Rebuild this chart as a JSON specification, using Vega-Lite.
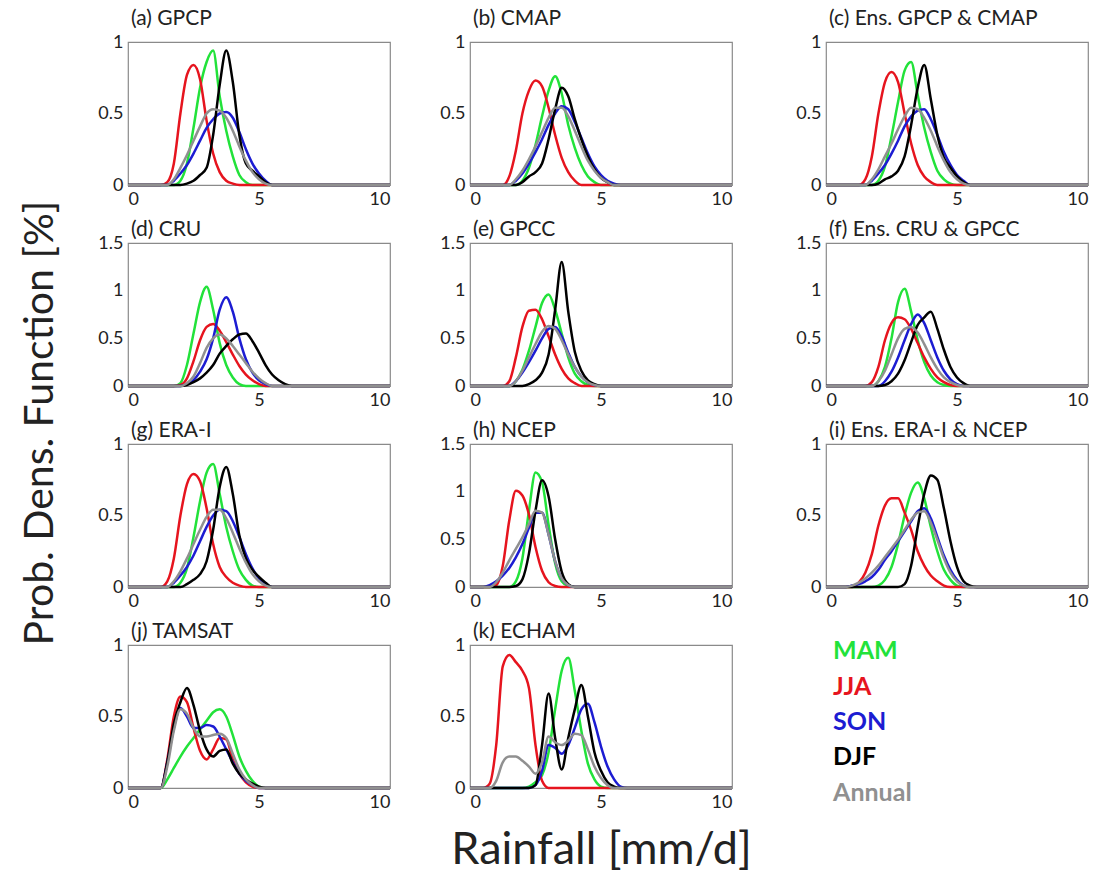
{
"$schema": "https://vega.github.io/schema/vega-lite/v6.json",
"background": "white",
"padding": {"left": 20, "top": 7, "right": 5, "bottom": 2},
"title": {"text": "Prob. Dens. Function [%]", "orient": "left", "anchor": "middle", "frame": "bounds", "fontSize": 41, "fontWeight": "normal", "font": "Lato", "color": "#222", "offset": 35, "dx": 17},
"columns": 3,
"spacing": {"row": 9, "column": 43},
"align": "each",
"datasets": {
"leg": [{"s":"MAM"},{"s":"JJA"},{"s":"SON"},{"s":"DJF"},{"s":"Annual"}],
"pdf": [
{"p":"a","s":"MAM","x":0,"y":0},{"p":"a","s":"MAM","x":1.75,"y":0},{"p":"a","s":"MAM","x":2,"y":0.03},{"p":"a","s":"MAM","x":2.25,"y":0.15},{"p":"a","s":"MAM","x":2.5,"y":0.4},{"p":"a","s":"MAM","x":2.75,"y":0.68},{"p":"a","s":"MAM","x":3,"y":0.86},{"p":"a","s":"MAM","x":3.25,"y":0.94},{"p":"a","s":"MAM","x":3.5,"y":0.62},{"p":"a","s":"MAM","x":3.75,"y":0.38},{"p":"a","s":"MAM","x":4,"y":0.2},{"p":"a","s":"MAM","x":4.25,"y":0.07},{"p":"a","s":"MAM","x":4.5,"y":0.02},{"p":"a","s":"MAM","x":4.75,"y":0},{"p":"a","s":"MAM","x":10,"y":0},
{"p":"a","s":"JJA","x":0,"y":0},{"p":"a","s":"JJA","x":1.25,"y":0},{"p":"a","s":"JJA","x":1.5,"y":0.02},{"p":"a","s":"JJA","x":1.75,"y":0.15},{"p":"a","s":"JJA","x":2,"y":0.5},{"p":"a","s":"JJA","x":2.25,"y":0.77},{"p":"a","s":"JJA","x":2.5,"y":0.84},{"p":"a","s":"JJA","x":2.75,"y":0.74},{"p":"a","s":"JJA","x":3,"y":0.45},{"p":"a","s":"JJA","x":3.25,"y":0.22},{"p":"a","s":"JJA","x":3.5,"y":0.09},{"p":"a","s":"JJA","x":3.75,"y":0.03},{"p":"a","s":"JJA","x":4,"y":0.01},{"p":"a","s":"JJA","x":4.25,"y":0},{"p":"a","s":"JJA","x":10,"y":0},
{"p":"a","s":"SON","x":0,"y":0},{"p":"a","s":"SON","x":1.5,"y":0},{"p":"a","s":"SON","x":1.75,"y":0.03},{"p":"a","s":"SON","x":2,"y":0.08},{"p":"a","s":"SON","x":2.25,"y":0.14},{"p":"a","s":"SON","x":2.5,"y":0.22},{"p":"a","s":"SON","x":2.75,"y":0.31},{"p":"a","s":"SON","x":3,"y":0.4},{"p":"a","s":"SON","x":3.25,"y":0.46},{"p":"a","s":"SON","x":3.5,"y":0.5},{"p":"a","s":"SON","x":3.75,"y":0.51},{"p":"a","s":"SON","x":4,"y":0.47},{"p":"a","s":"SON","x":4.25,"y":0.37},{"p":"a","s":"SON","x":4.5,"y":0.25},{"p":"a","s":"SON","x":4.75,"y":0.15},{"p":"a","s":"SON","x":5,"y":0.08},{"p":"a","s":"SON","x":5.25,"y":0.03},{"p":"a","s":"SON","x":5.5,"y":0},{"p":"a","s":"SON","x":10,"y":0},
{"p":"a","s":"DJF","x":0,"y":0},{"p":"a","s":"DJF","x":2,"y":0},{"p":"a","s":"DJF","x":2.25,"y":0.01},{"p":"a","s":"DJF","x":2.5,"y":0.03},{"p":"a","s":"DJF","x":2.75,"y":0.07},{"p":"a","s":"DJF","x":3,"y":0.12},{"p":"a","s":"DJF","x":3.25,"y":0.35},{"p":"a","s":"DJF","x":3.5,"y":0.7},{"p":"a","s":"DJF","x":3.75,"y":0.94},{"p":"a","s":"DJF","x":4,"y":0.72},{"p":"a","s":"DJF","x":4.25,"y":0.35},{"p":"a","s":"DJF","x":4.5,"y":0.15},{"p":"a","s":"DJF","x":4.75,"y":0.1},{"p":"a","s":"DJF","x":5,"y":0.06},{"p":"a","s":"DJF","x":5.25,"y":0.02},{"p":"a","s":"DJF","x":5.5,"y":0},{"p":"a","s":"DJF","x":10,"y":0},
{"p":"a","s":"Annual","x":0,"y":0},{"p":"a","s":"Annual","x":1.5,"y":0},{"p":"a","s":"Annual","x":1.75,"y":0.04},{"p":"a","s":"Annual","x":2,"y":0.12},{"p":"a","s":"Annual","x":2.25,"y":0.21},{"p":"a","s":"Annual","x":2.5,"y":0.31},{"p":"a","s":"Annual","x":2.75,"y":0.41},{"p":"a","s":"Annual","x":3,"y":0.5},{"p":"a","s":"Annual","x":3.25,"y":0.53},{"p":"a","s":"Annual","x":3.5,"y":0.52},{"p":"a","s":"Annual","x":3.75,"y":0.47},{"p":"a","s":"Annual","x":4,"y":0.38},{"p":"a","s":"Annual","x":4.25,"y":0.27},{"p":"a","s":"Annual","x":4.5,"y":0.17},{"p":"a","s":"Annual","x":4.75,"y":0.09},{"p":"a","s":"Annual","x":5,"y":0.04},{"p":"a","s":"Annual","x":5.25,"y":0.01},{"p":"a","s":"Annual","x":5.5,"y":0},{"p":"a","s":"Annual","x":10,"y":0},

{"p":"b","s":"MAM","x":0,"y":0},{"p":"b","s":"MAM","x":1.75,"y":0},{"p":"b","s":"MAM","x":2,"y":0.03},{"p":"b","s":"MAM","x":2.25,"y":0.12},{"p":"b","s":"MAM","x":2.5,"y":0.28},{"p":"b","s":"MAM","x":2.75,"y":0.48},{"p":"b","s":"MAM","x":3,"y":0.66},{"p":"b","s":"MAM","x":3.25,"y":0.76},{"p":"b","s":"MAM","x":3.5,"y":0.64},{"p":"b","s":"MAM","x":3.75,"y":0.42},{"p":"b","s":"MAM","x":4,"y":0.26},{"p":"b","s":"MAM","x":4.25,"y":0.14},{"p":"b","s":"MAM","x":4.5,"y":0.06},{"p":"b","s":"MAM","x":4.75,"y":0.02},{"p":"b","s":"MAM","x":5,"y":0},{"p":"b","s":"MAM","x":10,"y":0},
{"p":"b","s":"JJA","x":0,"y":0},{"p":"b","s":"JJA","x":1.25,"y":0},{"p":"b","s":"JJA","x":1.5,"y":0.06},{"p":"b","s":"JJA","x":1.75,"y":0.24},{"p":"b","s":"JJA","x":2,"y":0.5},{"p":"b","s":"JJA","x":2.25,"y":0.66},{"p":"b","s":"JJA","x":2.5,"y":0.73},{"p":"b","s":"JJA","x":2.75,"y":0.69},{"p":"b","s":"JJA","x":3,"y":0.54},{"p":"b","s":"JJA","x":3.25,"y":0.35},{"p":"b","s":"JJA","x":3.5,"y":0.19},{"p":"b","s":"JJA","x":3.75,"y":0.09},{"p":"b","s":"JJA","x":4,"y":0.03},{"p":"b","s":"JJA","x":4.25,"y":0},{"p":"b","s":"JJA","x":10,"y":0},
{"p":"b","s":"SON","x":0,"y":0},{"p":"b","s":"SON","x":1.5,"y":0},{"p":"b","s":"SON","x":1.75,"y":0.03},{"p":"b","s":"SON","x":2,"y":0.08},{"p":"b","s":"SON","x":2.25,"y":0.15},{"p":"b","s":"SON","x":2.5,"y":0.23},{"p":"b","s":"SON","x":2.75,"y":0.32},{"p":"b","s":"SON","x":3,"y":0.42},{"p":"b","s":"SON","x":3.25,"y":0.5},{"p":"b","s":"SON","x":3.5,"y":0.55},{"p":"b","s":"SON","x":3.75,"y":0.53},{"p":"b","s":"SON","x":4,"y":0.44},{"p":"b","s":"SON","x":4.25,"y":0.33},{"p":"b","s":"SON","x":4.5,"y":0.22},{"p":"b","s":"SON","x":4.75,"y":0.13},{"p":"b","s":"SON","x":5,"y":0.07},{"p":"b","s":"SON","x":5.25,"y":0.03},{"p":"b","s":"SON","x":5.5,"y":0.01},{"p":"b","s":"SON","x":5.75,"y":0},{"p":"b","s":"SON","x":10,"y":0},
{"p":"b","s":"DJF","x":0,"y":0},{"p":"b","s":"DJF","x":1.75,"y":0},{"p":"b","s":"DJF","x":2,"y":0.02},{"p":"b","s":"DJF","x":2.25,"y":0.06},{"p":"b","s":"DJF","x":2.5,"y":0.09},{"p":"b","s":"DJF","x":2.75,"y":0.15},{"p":"b","s":"DJF","x":3,"y":0.32},{"p":"b","s":"DJF","x":3.25,"y":0.53},{"p":"b","s":"DJF","x":3.5,"y":0.68},{"p":"b","s":"DJF","x":3.75,"y":0.62},{"p":"b","s":"DJF","x":4,"y":0.46},{"p":"b","s":"DJF","x":4.25,"y":0.32},{"p":"b","s":"DJF","x":4.5,"y":0.2},{"p":"b","s":"DJF","x":4.75,"y":0.11},{"p":"b","s":"DJF","x":5,"y":0.05},{"p":"b","s":"DJF","x":5.25,"y":0.02},{"p":"b","s":"DJF","x":5.5,"y":0},{"p":"b","s":"DJF","x":10,"y":0},
{"p":"b","s":"Annual","x":0,"y":0},{"p":"b","s":"Annual","x":1.5,"y":0},{"p":"b","s":"Annual","x":1.75,"y":0.04},{"p":"b","s":"Annual","x":2,"y":0.1},{"p":"b","s":"Annual","x":2.25,"y":0.18},{"p":"b","s":"Annual","x":2.5,"y":0.27},{"p":"b","s":"Annual","x":2.75,"y":0.37},{"p":"b","s":"Annual","x":3,"y":0.47},{"p":"b","s":"Annual","x":3.25,"y":0.54},{"p":"b","s":"Annual","x":3.5,"y":0.54},{"p":"b","s":"Annual","x":3.75,"y":0.48},{"p":"b","s":"Annual","x":4,"y":0.38},{"p":"b","s":"Annual","x":4.25,"y":0.27},{"p":"b","s":"Annual","x":4.5,"y":0.17},{"p":"b","s":"Annual","x":4.75,"y":0.1},{"p":"b","s":"Annual","x":5,"y":0.05},{"p":"b","s":"Annual","x":5.25,"y":0.02},{"p":"b","s":"Annual","x":5.5,"y":0},{"p":"b","s":"Annual","x":10,"y":0},

{"p":"c","s":"MAM","x":0,"y":0},{"p":"c","s":"MAM","x":1.75,"y":0},{"p":"c","s":"MAM","x":2,"y":0.03},{"p":"c","s":"MAM","x":2.25,"y":0.13},{"p":"c","s":"MAM","x":2.5,"y":0.34},{"p":"c","s":"MAM","x":2.75,"y":0.58},{"p":"c","s":"MAM","x":3,"y":0.8},{"p":"c","s":"MAM","x":3.25,"y":0.86},{"p":"c","s":"MAM","x":3.5,"y":0.63},{"p":"c","s":"MAM","x":3.75,"y":0.4},{"p":"c","s":"MAM","x":4,"y":0.23},{"p":"c","s":"MAM","x":4.25,"y":0.1},{"p":"c","s":"MAM","x":4.5,"y":0.04},{"p":"c","s":"MAM","x":4.75,"y":0.01},{"p":"c","s":"MAM","x":5,"y":0},{"p":"c","s":"MAM","x":10,"y":0},
{"p":"c","s":"JJA","x":0,"y":0},{"p":"c","s":"JJA","x":1.25,"y":0},{"p":"c","s":"JJA","x":1.5,"y":0.04},{"p":"c","s":"JJA","x":1.75,"y":0.2},{"p":"c","s":"JJA","x":2,"y":0.5},{"p":"c","s":"JJA","x":2.25,"y":0.72},{"p":"c","s":"JJA","x":2.5,"y":0.79},{"p":"c","s":"JJA","x":2.75,"y":0.72},{"p":"c","s":"JJA","x":3,"y":0.5},{"p":"c","s":"JJA","x":3.25,"y":0.29},{"p":"c","s":"JJA","x":3.5,"y":0.14},{"p":"c","s":"JJA","x":3.75,"y":0.06},{"p":"c","s":"JJA","x":4,"y":0.02},{"p":"c","s":"JJA","x":4.25,"y":0},{"p":"c","s":"JJA","x":10,"y":0},
{"p":"c","s":"SON","x":0,"y":0},{"p":"c","s":"SON","x":1.5,"y":0},{"p":"c","s":"SON","x":1.75,"y":0.03},{"p":"c","s":"SON","x":2,"y":0.08},{"p":"c","s":"SON","x":2.25,"y":0.14},{"p":"c","s":"SON","x":2.5,"y":0.22},{"p":"c","s":"SON","x":2.75,"y":0.31},{"p":"c","s":"SON","x":3,"y":0.41},{"p":"c","s":"SON","x":3.25,"y":0.48},{"p":"c","s":"SON","x":3.5,"y":0.52},{"p":"c","s":"SON","x":3.75,"y":0.53},{"p":"c","s":"SON","x":4,"y":0.46},{"p":"c","s":"SON","x":4.25,"y":0.35},{"p":"c","s":"SON","x":4.5,"y":0.23},{"p":"c","s":"SON","x":4.75,"y":0.14},{"p":"c","s":"SON","x":5,"y":0.07},{"p":"c","s":"SON","x":5.25,"y":0.03},{"p":"c","s":"SON","x":5.5,"y":0},{"p":"c","s":"SON","x":10,"y":0},
{"p":"c","s":"DJF","x":0,"y":0},{"p":"c","s":"DJF","x":1.75,"y":0},{"p":"c","s":"DJF","x":2,"y":0.01},{"p":"c","s":"DJF","x":2.25,"y":0.04},{"p":"c","s":"DJF","x":2.5,"y":0.06},{"p":"c","s":"DJF","x":2.75,"y":0.1},{"p":"c","s":"DJF","x":3,"y":0.2},{"p":"c","s":"DJF","x":3.25,"y":0.42},{"p":"c","s":"DJF","x":3.5,"y":0.68},{"p":"c","s":"DJF","x":3.75,"y":0.84},{"p":"c","s":"DJF","x":4,"y":0.6},{"p":"c","s":"DJF","x":4.25,"y":0.35},{"p":"c","s":"DJF","x":4.5,"y":0.19},{"p":"c","s":"DJF","x":4.75,"y":0.12},{"p":"c","s":"DJF","x":5,"y":0.06},{"p":"c","s":"DJF","x":5.25,"y":0.02},{"p":"c","s":"DJF","x":5.5,"y":0},{"p":"c","s":"DJF","x":10,"y":0},
{"p":"c","s":"Annual","x":0,"y":0},{"p":"c","s":"Annual","x":1.5,"y":0},{"p":"c","s":"Annual","x":1.75,"y":0.04},{"p":"c","s":"Annual","x":2,"y":0.11},{"p":"c","s":"Annual","x":2.25,"y":0.2},{"p":"c","s":"Annual","x":2.5,"y":0.29},{"p":"c","s":"Annual","x":2.75,"y":0.39},{"p":"c","s":"Annual","x":3,"y":0.48},{"p":"c","s":"Annual","x":3.25,"y":0.54},{"p":"c","s":"Annual","x":3.5,"y":0.53},{"p":"c","s":"Annual","x":3.75,"y":0.47},{"p":"c","s":"Annual","x":4,"y":0.38},{"p":"c","s":"Annual","x":4.25,"y":0.27},{"p":"c","s":"Annual","x":4.5,"y":0.17},{"p":"c","s":"Annual","x":4.75,"y":0.09},{"p":"c","s":"Annual","x":5,"y":0.04},{"p":"c","s":"Annual","x":5.25,"y":0.01},{"p":"c","s":"Annual","x":5.5,"y":0},{"p":"c","s":"Annual","x":10,"y":0},

{"p":"d","s":"MAM","x":0,"y":0},{"p":"d","s":"MAM","x":1.75,"y":0},{"p":"d","s":"MAM","x":2,"y":0.03},{"p":"d","s":"MAM","x":2.25,"y":0.22},{"p":"d","s":"MAM","x":2.5,"y":0.55},{"p":"d","s":"MAM","x":2.75,"y":0.88},{"p":"d","s":"MAM","x":3,"y":1.04},{"p":"d","s":"MAM","x":3.25,"y":0.8},{"p":"d","s":"MAM","x":3.5,"y":0.45},{"p":"d","s":"MAM","x":3.75,"y":0.22},{"p":"d","s":"MAM","x":4,"y":0.09},{"p":"d","s":"MAM","x":4.25,"y":0.02},{"p":"d","s":"MAM","x":4.5,"y":0},{"p":"d","s":"MAM","x":10,"y":0},
{"p":"d","s":"JJA","x":0,"y":0},{"p":"d","s":"JJA","x":1.75,"y":0},{"p":"d","s":"JJA","x":2,"y":0.01},{"p":"d","s":"JJA","x":2.25,"y":0.08},{"p":"d","s":"JJA","x":2.5,"y":0.26},{"p":"d","s":"JJA","x":2.75,"y":0.48},{"p":"d","s":"JJA","x":3,"y":0.62},{"p":"d","s":"JJA","x":3.25,"y":0.65},{"p":"d","s":"JJA","x":3.5,"y":0.58},{"p":"d","s":"JJA","x":3.75,"y":0.46},{"p":"d","s":"JJA","x":4,"y":0.33},{"p":"d","s":"JJA","x":4.25,"y":0.21},{"p":"d","s":"JJA","x":4.5,"y":0.12},{"p":"d","s":"JJA","x":4.75,"y":0.06},{"p":"d","s":"JJA","x":5,"y":0.02},{"p":"d","s":"JJA","x":5.25,"y":0},{"p":"d","s":"JJA","x":10,"y":0},
{"p":"d","s":"SON","x":0,"y":0},{"p":"d","s":"SON","x":2,"y":0},{"p":"d","s":"SON","x":2.25,"y":0.02},{"p":"d","s":"SON","x":2.5,"y":0.06},{"p":"d","s":"SON","x":2.75,"y":0.15},{"p":"d","s":"SON","x":3,"y":0.28},{"p":"d","s":"SON","x":3.25,"y":0.5},{"p":"d","s":"SON","x":3.5,"y":0.8},{"p":"d","s":"SON","x":3.75,"y":0.93},{"p":"d","s":"SON","x":4,"y":0.78},{"p":"d","s":"SON","x":4.25,"y":0.5},{"p":"d","s":"SON","x":4.5,"y":0.28},{"p":"d","s":"SON","x":4.75,"y":0.14},{"p":"d","s":"SON","x":5,"y":0.06},{"p":"d","s":"SON","x":5.25,"y":0.02},{"p":"d","s":"SON","x":5.5,"y":0},{"p":"d","s":"SON","x":10,"y":0},
{"p":"d","s":"DJF","x":0,"y":0},{"p":"d","s":"DJF","x":2,"y":0},{"p":"d","s":"DJF","x":2.25,"y":0.01},{"p":"d","s":"DJF","x":2.5,"y":0.04},{"p":"d","s":"DJF","x":2.75,"y":0.08},{"p":"d","s":"DJF","x":3,"y":0.14},{"p":"d","s":"DJF","x":3.25,"y":0.22},{"p":"d","s":"DJF","x":3.5,"y":0.34},{"p":"d","s":"DJF","x":3.75,"y":0.42},{"p":"d","s":"DJF","x":4,"y":0.49},{"p":"d","s":"DJF","x":4.25,"y":0.54},{"p":"d","s":"DJF","x":4.5,"y":0.55},{"p":"d","s":"DJF","x":4.75,"y":0.47},{"p":"d","s":"DJF","x":5,"y":0.35},{"p":"d","s":"DJF","x":5.25,"y":0.22},{"p":"d","s":"DJF","x":5.5,"y":0.12},{"p":"d","s":"DJF","x":5.75,"y":0.06},{"p":"d","s":"DJF","x":6,"y":0.02},{"p":"d","s":"DJF","x":6.25,"y":0},{"p":"d","s":"DJF","x":10,"y":0},
{"p":"d","s":"Annual","x":0,"y":0},{"p":"d","s":"Annual","x":2,"y":0},{"p":"d","s":"Annual","x":2.25,"y":0.03},{"p":"d","s":"Annual","x":2.5,"y":0.1},{"p":"d","s":"Annual","x":2.75,"y":0.24},{"p":"d","s":"Annual","x":3,"y":0.4},{"p":"d","s":"Annual","x":3.25,"y":0.5},{"p":"d","s":"Annual","x":3.5,"y":0.54},{"p":"d","s":"Annual","x":3.75,"y":0.5},{"p":"d","s":"Annual","x":4,"y":0.42},{"p":"d","s":"Annual","x":4.25,"y":0.33},{"p":"d","s":"Annual","x":4.5,"y":0.24},{"p":"d","s":"Annual","x":4.75,"y":0.15},{"p":"d","s":"Annual","x":5,"y":0.08},{"p":"d","s":"Annual","x":5.25,"y":0.03},{"p":"d","s":"Annual","x":5.5,"y":0},{"p":"d","s":"Annual","x":10,"y":0},

{"p":"e","s":"MAM","x":0,"y":0},{"p":"e","s":"MAM","x":1.5,"y":0},{"p":"e","s":"MAM","x":1.75,"y":0.05},{"p":"e","s":"MAM","x":2,"y":0.17},{"p":"e","s":"MAM","x":2.25,"y":0.37},{"p":"e","s":"MAM","x":2.5,"y":0.62},{"p":"e","s":"MAM","x":2.75,"y":0.87},{"p":"e","s":"MAM","x":3,"y":0.96},{"p":"e","s":"MAM","x":3.25,"y":0.8},{"p":"e","s":"MAM","x":3.5,"y":0.55},{"p":"e","s":"MAM","x":3.75,"y":0.3},{"p":"e","s":"MAM","x":4,"y":0.13},{"p":"e","s":"MAM","x":4.25,"y":0.05},{"p":"e","s":"MAM","x":4.5,"y":0.01},{"p":"e","s":"MAM","x":4.75,"y":0},{"p":"e","s":"MAM","x":10,"y":0},
{"p":"e","s":"JJA","x":0,"y":0},{"p":"e","s":"JJA","x":1.25,"y":0},{"p":"e","s":"JJA","x":1.5,"y":0.05},{"p":"e","s":"JJA","x":1.75,"y":0.3},{"p":"e","s":"JJA","x":2,"y":0.62},{"p":"e","s":"JJA","x":2.25,"y":0.79},{"p":"e","s":"JJA","x":2.5,"y":0.8},{"p":"e","s":"JJA","x":2.75,"y":0.7},{"p":"e","s":"JJA","x":3,"y":0.52},{"p":"e","s":"JJA","x":3.25,"y":0.33},{"p":"e","s":"JJA","x":3.5,"y":0.18},{"p":"e","s":"JJA","x":3.75,"y":0.08},{"p":"e","s":"JJA","x":4,"y":0.03},{"p":"e","s":"JJA","x":4.25,"y":0},{"p":"e","s":"JJA","x":10,"y":0},
{"p":"e","s":"SON","x":0,"y":0},{"p":"e","s":"SON","x":1.5,"y":0},{"p":"e","s":"SON","x":1.75,"y":0.05},{"p":"e","s":"SON","x":2,"y":0.14},{"p":"e","s":"SON","x":2.25,"y":0.25},{"p":"e","s":"SON","x":2.5,"y":0.37},{"p":"e","s":"SON","x":2.75,"y":0.5},{"p":"e","s":"SON","x":3,"y":0.6},{"p":"e","s":"SON","x":3.25,"y":0.62},{"p":"e","s":"SON","x":3.5,"y":0.52},{"p":"e","s":"SON","x":3.75,"y":0.35},{"p":"e","s":"SON","x":4,"y":0.2},{"p":"e","s":"SON","x":4.25,"y":0.1},{"p":"e","s":"SON","x":4.5,"y":0.04},{"p":"e","s":"SON","x":4.75,"y":0.01},{"p":"e","s":"SON","x":5,"y":0},{"p":"e","s":"SON","x":10,"y":0},
{"p":"e","s":"DJF","x":0,"y":0},{"p":"e","s":"DJF","x":2,"y":0},{"p":"e","s":"DJF","x":2.25,"y":0.02},{"p":"e","s":"DJF","x":2.5,"y":0.06},{"p":"e","s":"DJF","x":2.75,"y":0.14},{"p":"e","s":"DJF","x":3,"y":0.33},{"p":"e","s":"DJF","x":3.25,"y":0.8},{"p":"e","s":"DJF","x":3.5,"y":1.3},{"p":"e","s":"DJF","x":3.75,"y":0.78},{"p":"e","s":"DJF","x":4,"y":0.36},{"p":"e","s":"DJF","x":4.25,"y":0.16},{"p":"e","s":"DJF","x":4.5,"y":0.06},{"p":"e","s":"DJF","x":4.75,"y":0.02},{"p":"e","s":"DJF","x":5,"y":0},{"p":"e","s":"DJF","x":10,"y":0},
{"p":"e","s":"Annual","x":0,"y":0},{"p":"e","s":"Annual","x":1.5,"y":0},{"p":"e","s":"Annual","x":1.75,"y":0.05},{"p":"e","s":"Annual","x":2,"y":0.16},{"p":"e","s":"Annual","x":2.25,"y":0.3},{"p":"e","s":"Annual","x":2.5,"y":0.44},{"p":"e","s":"Annual","x":2.75,"y":0.57},{"p":"e","s":"Annual","x":3,"y":0.63},{"p":"e","s":"Annual","x":3.25,"y":0.6},{"p":"e","s":"Annual","x":3.5,"y":0.48},{"p":"e","s":"Annual","x":3.75,"y":0.33},{"p":"e","s":"Annual","x":4,"y":0.2},{"p":"e","s":"Annual","x":4.25,"y":0.1},{"p":"e","s":"Annual","x":4.5,"y":0.04},{"p":"e","s":"Annual","x":4.75,"y":0.01},{"p":"e","s":"Annual","x":5,"y":0},{"p":"e","s":"Annual","x":10,"y":0},

{"p":"f","s":"MAM","x":0,"y":0},{"p":"f","s":"MAM","x":1.75,"y":0},{"p":"f","s":"MAM","x":2,"y":0.05},{"p":"f","s":"MAM","x":2.25,"y":0.2},{"p":"f","s":"MAM","x":2.5,"y":0.5},{"p":"f","s":"MAM","x":2.75,"y":0.88},{"p":"f","s":"MAM","x":3,"y":1.02},{"p":"f","s":"MAM","x":3.25,"y":0.78},{"p":"f","s":"MAM","x":3.5,"y":0.48},{"p":"f","s":"MAM","x":3.75,"y":0.25},{"p":"f","s":"MAM","x":4,"y":0.11},{"p":"f","s":"MAM","x":4.25,"y":0.04},{"p":"f","s":"MAM","x":4.5,"y":0.01},{"p":"f","s":"MAM","x":4.75,"y":0},{"p":"f","s":"MAM","x":10,"y":0},
{"p":"f","s":"JJA","x":0,"y":0},{"p":"f","s":"JJA","x":1.5,"y":0},{"p":"f","s":"JJA","x":1.75,"y":0.04},{"p":"f","s":"JJA","x":2,"y":0.2},{"p":"f","s":"JJA","x":2.25,"y":0.48},{"p":"f","s":"JJA","x":2.5,"y":0.66},{"p":"f","s":"JJA","x":2.75,"y":0.72},{"p":"f","s":"JJA","x":3,"y":0.7},{"p":"f","s":"JJA","x":3.25,"y":0.6},{"p":"f","s":"JJA","x":3.5,"y":0.45},{"p":"f","s":"JJA","x":3.75,"y":0.3},{"p":"f","s":"JJA","x":4,"y":0.18},{"p":"f","s":"JJA","x":4.25,"y":0.09},{"p":"f","s":"JJA","x":4.5,"y":0.04},{"p":"f","s":"JJA","x":4.75,"y":0.01},{"p":"f","s":"JJA","x":5,"y":0},{"p":"f","s":"JJA","x":10,"y":0},
{"p":"f","s":"SON","x":0,"y":0},{"p":"f","s":"SON","x":2,"y":0},{"p":"f","s":"SON","x":2.25,"y":0.05},{"p":"f","s":"SON","x":2.5,"y":0.15},{"p":"f","s":"SON","x":2.75,"y":0.3},{"p":"f","s":"SON","x":3,"y":0.48},{"p":"f","s":"SON","x":3.25,"y":0.65},{"p":"f","s":"SON","x":3.5,"y":0.75},{"p":"f","s":"SON","x":3.75,"y":0.66},{"p":"f","s":"SON","x":4,"y":0.48},{"p":"f","s":"SON","x":4.25,"y":0.3},{"p":"f","s":"SON","x":4.5,"y":0.16},{"p":"f","s":"SON","x":4.75,"y":0.07},{"p":"f","s":"SON","x":5,"y":0.02},{"p":"f","s":"SON","x":5.25,"y":0},{"p":"f","s":"SON","x":10,"y":0},
{"p":"f","s":"DJF","x":0,"y":0},{"p":"f","s":"DJF","x":2,"y":0},{"p":"f","s":"DJF","x":2.25,"y":0.01},{"p":"f","s":"DJF","x":2.5,"y":0.05},{"p":"f","s":"DJF","x":2.75,"y":0.13},{"p":"f","s":"DJF","x":3,"y":0.27},{"p":"f","s":"DJF","x":3.25,"y":0.46},{"p":"f","s":"DJF","x":3.5,"y":0.64},{"p":"f","s":"DJF","x":3.75,"y":0.72},{"p":"f","s":"DJF","x":4,"y":0.78},{"p":"f","s":"DJF","x":4.25,"y":0.6},{"p":"f","s":"DJF","x":4.5,"y":0.38},{"p":"f","s":"DJF","x":4.75,"y":0.2},{"p":"f","s":"DJF","x":5,"y":0.09},{"p":"f","s":"DJF","x":5.25,"y":0.03},{"p":"f","s":"DJF","x":5.5,"y":0},{"p":"f","s":"DJF","x":10,"y":0},
{"p":"f","s":"Annual","x":0,"y":0},{"p":"f","s":"Annual","x":1.75,"y":0},{"p":"f","s":"Annual","x":2,"y":0.05},{"p":"f","s":"Annual","x":2.25,"y":0.16},{"p":"f","s":"Annual","x":2.5,"y":0.33},{"p":"f","s":"Annual","x":2.75,"y":0.5},{"p":"f","s":"Annual","x":3,"y":0.6},{"p":"f","s":"Annual","x":3.25,"y":0.62},{"p":"f","s":"Annual","x":3.5,"y":0.56},{"p":"f","s":"Annual","x":3.75,"y":0.44},{"p":"f","s":"Annual","x":4,"y":0.3},{"p":"f","s":"Annual","x":4.25,"y":0.18},{"p":"f","s":"Annual","x":4.5,"y":0.09},{"p":"f","s":"Annual","x":4.75,"y":0.04},{"p":"f","s":"Annual","x":5,"y":0.01},{"p":"f","s":"Annual","x":5.25,"y":0},{"p":"f","s":"Annual","x":10,"y":0},

{"p":"g","s":"MAM","x":0,"y":0},{"p":"g","s":"MAM","x":1.75,"y":0},{"p":"g","s":"MAM","x":2,"y":0.03},{"p":"g","s":"MAM","x":2.25,"y":0.13},{"p":"g","s":"MAM","x":2.5,"y":0.35},{"p":"g","s":"MAM","x":2.75,"y":0.6},{"p":"g","s":"MAM","x":3,"y":0.8},{"p":"g","s":"MAM","x":3.25,"y":0.86},{"p":"g","s":"MAM","x":3.5,"y":0.65},{"p":"g","s":"MAM","x":3.75,"y":0.42},{"p":"g","s":"MAM","x":4,"y":0.25},{"p":"g","s":"MAM","x":4.25,"y":0.12},{"p":"g","s":"MAM","x":4.5,"y":0.05},{"p":"g","s":"MAM","x":4.75,"y":0.01},{"p":"g","s":"MAM","x":5,"y":0},{"p":"g","s":"MAM","x":10,"y":0},
{"p":"g","s":"JJA","x":0,"y":0},{"p":"g","s":"JJA","x":1.25,"y":0},{"p":"g","s":"JJA","x":1.5,"y":0.04},{"p":"g","s":"JJA","x":1.75,"y":0.2},{"p":"g","s":"JJA","x":2,"y":0.5},{"p":"g","s":"JJA","x":2.25,"y":0.72},{"p":"g","s":"JJA","x":2.5,"y":0.79},{"p":"g","s":"JJA","x":2.75,"y":0.74},{"p":"g","s":"JJA","x":3,"y":0.55},{"p":"g","s":"JJA","x":3.25,"y":0.3},{"p":"g","s":"JJA","x":3.5,"y":0.14},{"p":"g","s":"JJA","x":3.75,"y":0.07},{"p":"g","s":"JJA","x":4,"y":0.03},{"p":"g","s":"JJA","x":4.25,"y":0.01},{"p":"g","s":"JJA","x":4.5,"y":0},{"p":"g","s":"JJA","x":10,"y":0},
{"p":"g","s":"SON","x":0,"y":0},{"p":"g","s":"SON","x":1.5,"y":0},{"p":"g","s":"SON","x":1.75,"y":0.03},{"p":"g","s":"SON","x":2,"y":0.08},{"p":"g","s":"SON","x":2.25,"y":0.14},{"p":"g","s":"SON","x":2.5,"y":0.22},{"p":"g","s":"SON","x":2.75,"y":0.32},{"p":"g","s":"SON","x":3,"y":0.42},{"p":"g","s":"SON","x":3.25,"y":0.5},{"p":"g","s":"SON","x":3.5,"y":0.54},{"p":"g","s":"SON","x":3.75,"y":0.53},{"p":"g","s":"SON","x":4,"y":0.46},{"p":"g","s":"SON","x":4.25,"y":0.35},{"p":"g","s":"SON","x":4.5,"y":0.23},{"p":"g","s":"SON","x":4.75,"y":0.13},{"p":"g","s":"SON","x":5,"y":0.06},{"p":"g","s":"SON","x":5.25,"y":0.02},{"p":"g","s":"SON","x":5.5,"y":0},{"p":"g","s":"SON","x":10,"y":0},
{"p":"g","s":"DJF","x":0,"y":0},{"p":"g","s":"DJF","x":2,"y":0},{"p":"g","s":"DJF","x":2.25,"y":0.02},{"p":"g","s":"DJF","x":2.5,"y":0.05},{"p":"g","s":"DJF","x":2.75,"y":0.09},{"p":"g","s":"DJF","x":3,"y":0.18},{"p":"g","s":"DJF","x":3.25,"y":0.4},{"p":"g","s":"DJF","x":3.5,"y":0.7},{"p":"g","s":"DJF","x":3.75,"y":0.84},{"p":"g","s":"DJF","x":4,"y":0.65},{"p":"g","s":"DJF","x":4.25,"y":0.36},{"p":"g","s":"DJF","x":4.5,"y":0.2},{"p":"g","s":"DJF","x":4.75,"y":0.12},{"p":"g","s":"DJF","x":5,"y":0.07},{"p":"g","s":"DJF","x":5.25,"y":0.03},{"p":"g","s":"DJF","x":5.5,"y":0},{"p":"g","s":"DJF","x":10,"y":0},
{"p":"g","s":"Annual","x":0,"y":0},{"p":"g","s":"Annual","x":1.5,"y":0},{"p":"g","s":"Annual","x":1.75,"y":0.04},{"p":"g","s":"Annual","x":2,"y":0.11},{"p":"g","s":"Annual","x":2.25,"y":0.2},{"p":"g","s":"Annual","x":2.5,"y":0.3},{"p":"g","s":"Annual","x":2.75,"y":0.4},{"p":"g","s":"Annual","x":3,"y":0.49},{"p":"g","s":"Annual","x":3.25,"y":0.54},{"p":"g","s":"Annual","x":3.5,"y":0.54},{"p":"g","s":"Annual","x":3.75,"y":0.48},{"p":"g","s":"Annual","x":4,"y":0.38},{"p":"g","s":"Annual","x":4.25,"y":0.27},{"p":"g","s":"Annual","x":4.5,"y":0.17},{"p":"g","s":"Annual","x":4.75,"y":0.09},{"p":"g","s":"Annual","x":5,"y":0.04},{"p":"g","s":"Annual","x":5.25,"y":0.01},{"p":"g","s":"Annual","x":5.5,"y":0},{"p":"g","s":"Annual","x":10,"y":0},

{"p":"h","s":"MAM","x":0,"y":0},{"p":"h","s":"MAM","x":1.5,"y":0},{"p":"h","s":"MAM","x":1.75,"y":0.06},{"p":"h","s":"MAM","x":2,"y":0.3},{"p":"h","s":"MAM","x":2.25,"y":0.8},{"p":"h","s":"MAM","x":2.5,"y":1.2},{"p":"h","s":"MAM","x":2.75,"y":1.1},{"p":"h","s":"MAM","x":3,"y":0.65},{"p":"h","s":"MAM","x":3.25,"y":0.25},{"p":"h","s":"MAM","x":3.5,"y":0.06},{"p":"h","s":"MAM","x":3.75,"y":0.01},{"p":"h","s":"MAM","x":4,"y":0},{"p":"h","s":"MAM","x":10,"y":0},
{"p":"h","s":"JJA","x":0,"y":0},{"p":"h","s":"JJA","x":0.75,"y":0},{"p":"h","s":"JJA","x":1,"y":0.02},{"p":"h","s":"JJA","x":1.25,"y":0.22},{"p":"h","s":"JJA","x":1.5,"y":0.7},{"p":"h","s":"JJA","x":1.75,"y":1.01},{"p":"h","s":"JJA","x":2,"y":0.96},{"p":"h","s":"JJA","x":2.25,"y":0.76},{"p":"h","s":"JJA","x":2.5,"y":0.42},{"p":"h","s":"JJA","x":2.75,"y":0.17},{"p":"h","s":"JJA","x":3,"y":0.05},{"p":"h","s":"JJA","x":3.25,"y":0.01},{"p":"h","s":"JJA","x":3.5,"y":0},{"p":"h","s":"JJA","x":10,"y":0},
{"p":"h","s":"SON","x":0,"y":0},{"p":"h","s":"SON","x":0.5,"y":0},{"p":"h","s":"SON","x":0.75,"y":0.02},{"p":"h","s":"SON","x":1,"y":0.06},{"p":"h","s":"SON","x":1.25,"y":0.12},{"p":"h","s":"SON","x":1.5,"y":0.2},{"p":"h","s":"SON","x":1.75,"y":0.31},{"p":"h","s":"SON","x":2,"y":0.45},{"p":"h","s":"SON","x":2.25,"y":0.62},{"p":"h","s":"SON","x":2.5,"y":0.78},{"p":"h","s":"SON","x":2.75,"y":0.78},{"p":"h","s":"SON","x":3,"y":0.55},{"p":"h","s":"SON","x":3.25,"y":0.27},{"p":"h","s":"SON","x":3.5,"y":0.09},{"p":"h","s":"SON","x":3.75,"y":0.02},{"p":"h","s":"SON","x":4,"y":0},{"p":"h","s":"SON","x":10,"y":0},
{"p":"h","s":"DJF","x":0,"y":0},{"p":"h","s":"DJF","x":1.5,"y":0},{"p":"h","s":"DJF","x":1.75,"y":0.01},{"p":"h","s":"DJF","x":2,"y":0.08},{"p":"h","s":"DJF","x":2.25,"y":0.35},{"p":"h","s":"DJF","x":2.5,"y":0.8},{"p":"h","s":"DJF","x":2.75,"y":1.12},{"p":"h","s":"DJF","x":3,"y":0.95},{"p":"h","s":"DJF","x":3.25,"y":0.5},{"p":"h","s":"DJF","x":3.5,"y":0.16},{"p":"h","s":"DJF","x":3.75,"y":0.03},{"p":"h","s":"DJF","x":4,"y":0},{"p":"h","s":"DJF","x":10,"y":0},
{"p":"h","s":"Annual","x":0,"y":0},{"p":"h","s":"Annual","x":0.75,"y":0},{"p":"h","s":"Annual","x":1,"y":0.05},{"p":"h","s":"Annual","x":1.25,"y":0.15},{"p":"h","s":"Annual","x":1.5,"y":0.28},{"p":"h","s":"Annual","x":1.75,"y":0.4},{"p":"h","s":"Annual","x":2,"y":0.52},{"p":"h","s":"Annual","x":2.25,"y":0.66},{"p":"h","s":"Annual","x":2.5,"y":0.8},{"p":"h","s":"Annual","x":2.75,"y":0.78},{"p":"h","s":"Annual","x":3,"y":0.55},{"p":"h","s":"Annual","x":3.25,"y":0.27},{"p":"h","s":"Annual","x":3.5,"y":0.09},{"p":"h","s":"Annual","x":3.75,"y":0.02},{"p":"h","s":"Annual","x":4,"y":0},{"p":"h","s":"Annual","x":10,"y":0},

{"p":"i","s":"MAM","x":0,"y":0},{"p":"i","s":"MAM","x":1.75,"y":0},{"p":"i","s":"MAM","x":2,"y":0.01},{"p":"i","s":"MAM","x":2.25,"y":0.05},{"p":"i","s":"MAM","x":2.5,"y":0.14},{"p":"i","s":"MAM","x":2.75,"y":0.3},{"p":"i","s":"MAM","x":3,"y":0.5},{"p":"i","s":"MAM","x":3.25,"y":0.66},{"p":"i","s":"MAM","x":3.5,"y":0.73},{"p":"i","s":"MAM","x":3.75,"y":0.62},{"p":"i","s":"MAM","x":4,"y":0.42},{"p":"i","s":"MAM","x":4.25,"y":0.25},{"p":"i","s":"MAM","x":4.5,"y":0.12},{"p":"i","s":"MAM","x":4.75,"y":0.05},{"p":"i","s":"MAM","x":5,"y":0.01},{"p":"i","s":"MAM","x":5.25,"y":0},{"p":"i","s":"MAM","x":10,"y":0},
{"p":"i","s":"JJA","x":0,"y":0},{"p":"i","s":"JJA","x":1,"y":0},{"p":"i","s":"JJA","x":1.25,"y":0.03},{"p":"i","s":"JJA","x":1.5,"y":0.1},{"p":"i","s":"JJA","x":1.75,"y":0.23},{"p":"i","s":"JJA","x":2,"y":0.43},{"p":"i","s":"JJA","x":2.25,"y":0.57},{"p":"i","s":"JJA","x":2.5,"y":0.62},{"p":"i","s":"JJA","x":2.75,"y":0.62},{"p":"i","s":"JJA","x":3,"y":0.52},{"p":"i","s":"JJA","x":3.25,"y":0.4},{"p":"i","s":"JJA","x":3.5,"y":0.25},{"p":"i","s":"JJA","x":3.75,"y":0.15},{"p":"i","s":"JJA","x":4,"y":0.08},{"p":"i","s":"JJA","x":4.25,"y":0.04},{"p":"i","s":"JJA","x":4.5,"y":0.01},{"p":"i","s":"JJA","x":4.75,"y":0},{"p":"i","s":"JJA","x":10,"y":0},
{"p":"i","s":"SON","x":0,"y":0},{"p":"i","s":"SON","x":0.75,"y":0},{"p":"i","s":"SON","x":1,"y":0.01},{"p":"i","s":"SON","x":1.25,"y":0.02},{"p":"i","s":"SON","x":1.5,"y":0.04},{"p":"i","s":"SON","x":1.75,"y":0.07},{"p":"i","s":"SON","x":2,"y":0.12},{"p":"i","s":"SON","x":2.25,"y":0.19},{"p":"i","s":"SON","x":2.5,"y":0.25},{"p":"i","s":"SON","x":2.75,"y":0.32},{"p":"i","s":"SON","x":3,"y":0.39},{"p":"i","s":"SON","x":3.25,"y":0.46},{"p":"i","s":"SON","x":3.5,"y":0.53},{"p":"i","s":"SON","x":3.75,"y":0.55},{"p":"i","s":"SON","x":4,"y":0.48},{"p":"i","s":"SON","x":4.25,"y":0.35},{"p":"i","s":"SON","x":4.5,"y":0.22},{"p":"i","s":"SON","x":4.75,"y":0.12},{"p":"i","s":"SON","x":5,"y":0.05},{"p":"i","s":"SON","x":5.25,"y":0.01},{"p":"i","s":"SON","x":5.5,"y":0},{"p":"i","s":"SON","x":10,"y":0},
{"p":"i","s":"DJF","x":0,"y":0},{"p":"i","s":"DJF","x":2.75,"y":0},{"p":"i","s":"DJF","x":3,"y":0.02},{"p":"i","s":"DJF","x":3.25,"y":0.15},{"p":"i","s":"DJF","x":3.5,"y":0.42},{"p":"i","s":"DJF","x":3.75,"y":0.65},{"p":"i","s":"DJF","x":4,"y":0.78},{"p":"i","s":"DJF","x":4.25,"y":0.75},{"p":"i","s":"DJF","x":4.5,"y":0.55},{"p":"i","s":"DJF","x":4.75,"y":0.32},{"p":"i","s":"DJF","x":5,"y":0.14},{"p":"i","s":"DJF","x":5.25,"y":0.04},{"p":"i","s":"DJF","x":5.5,"y":0.01},{"p":"i","s":"DJF","x":5.75,"y":0},{"p":"i","s":"DJF","x":10,"y":0},
{"p":"i","s":"Annual","x":0,"y":0},{"p":"i","s":"Annual","x":0.75,"y":0},{"p":"i","s":"Annual","x":1,"y":0.01},{"p":"i","s":"Annual","x":1.25,"y":0.03},{"p":"i","s":"Annual","x":1.5,"y":0.06},{"p":"i","s":"Annual","x":1.75,"y":0.1},{"p":"i","s":"Annual","x":2,"y":0.15},{"p":"i","s":"Annual","x":2.25,"y":0.21},{"p":"i","s":"Annual","x":2.5,"y":0.27},{"p":"i","s":"Annual","x":2.75,"y":0.33},{"p":"i","s":"Annual","x":3,"y":0.4},{"p":"i","s":"Annual","x":3.25,"y":0.47},{"p":"i","s":"Annual","x":3.5,"y":0.52},{"p":"i","s":"Annual","x":3.75,"y":0.53},{"p":"i","s":"Annual","x":4,"y":0.45},{"p":"i","s":"Annual","x":4.25,"y":0.33},{"p":"i","s":"Annual","x":4.5,"y":0.2},{"p":"i","s":"Annual","x":4.75,"y":0.1},{"p":"i","s":"Annual","x":5,"y":0.04},{"p":"i","s":"Annual","x":5.25,"y":0.01},{"p":"i","s":"Annual","x":5.5,"y":0},{"p":"i","s":"Annual","x":10,"y":0},

{"p":"j","s":"MAM","x":0,"y":0},{"p":"j","s":"MAM","x":1.25,"y":0},{"p":"j","s":"MAM","x":1.5,"y":0.06},{"p":"j","s":"MAM","x":1.75,"y":0.14},{"p":"j","s":"MAM","x":2,"y":0.22},{"p":"j","s":"MAM","x":2.25,"y":0.29},{"p":"j","s":"MAM","x":2.5,"y":0.35},{"p":"j","s":"MAM","x":2.75,"y":0.41},{"p":"j","s":"MAM","x":3,"y":0.47},{"p":"j","s":"MAM","x":3.25,"y":0.53},{"p":"j","s":"MAM","x":3.5,"y":0.55},{"p":"j","s":"MAM","x":3.75,"y":0.5},{"p":"j","s":"MAM","x":4,"y":0.37},{"p":"j","s":"MAM","x":4.25,"y":0.22},{"p":"j","s":"MAM","x":4.5,"y":0.12},{"p":"j","s":"MAM","x":4.75,"y":0.05},{"p":"j","s":"MAM","x":5,"y":0.01},{"p":"j","s":"MAM","x":5.25,"y":0},{"p":"j","s":"MAM","x":10,"y":0},
{"p":"j","s":"JJA","x":0,"y":0},{"p":"j","s":"JJA","x":1.25,"y":0},{"p":"j","s":"JJA","x":1.5,"y":0.2},{"p":"j","s":"JJA","x":1.75,"y":0.5},{"p":"j","s":"JJA","x":2,"y":0.64},{"p":"j","s":"JJA","x":2.25,"y":0.6},{"p":"j","s":"JJA","x":2.5,"y":0.42},{"p":"j","s":"JJA","x":2.75,"y":0.26},{"p":"j","s":"JJA","x":3,"y":0.2},{"p":"j","s":"JJA","x":3.25,"y":0.27},{"p":"j","s":"JJA","x":3.5,"y":0.35},{"p":"j","s":"JJA","x":3.75,"y":0.34},{"p":"j","s":"JJA","x":4,"y":0.2},{"p":"j","s":"JJA","x":4.25,"y":0.1},{"p":"j","s":"JJA","x":4.5,"y":0.04},{"p":"j","s":"JJA","x":4.75,"y":0.01},{"p":"j","s":"JJA","x":5,"y":0},{"p":"j","s":"JJA","x":10,"y":0},
{"p":"j","s":"SON","x":0,"y":0},{"p":"j","s":"SON","x":1.25,"y":0},{"p":"j","s":"SON","x":1.5,"y":0.18},{"p":"j","s":"SON","x":1.75,"y":0.42},{"p":"j","s":"SON","x":2,"y":0.56},{"p":"j","s":"SON","x":2.25,"y":0.5},{"p":"j","s":"SON","x":2.5,"y":0.42},{"p":"j","s":"SON","x":2.75,"y":0.42},{"p":"j","s":"SON","x":3,"y":0.44},{"p":"j","s":"SON","x":3.25,"y":0.43},{"p":"j","s":"SON","x":3.5,"y":0.36},{"p":"j","s":"SON","x":3.75,"y":0.27},{"p":"j","s":"SON","x":4,"y":0.18},{"p":"j","s":"SON","x":4.25,"y":0.1},{"p":"j","s":"SON","x":4.5,"y":0.05},{"p":"j","s":"SON","x":4.75,"y":0.02},{"p":"j","s":"SON","x":5,"y":0},{"p":"j","s":"SON","x":10,"y":0},
{"p":"j","s":"DJF","x":0,"y":0},{"p":"j","s":"DJF","x":1.25,"y":0},{"p":"j","s":"DJF","x":1.5,"y":0.18},{"p":"j","s":"DJF","x":1.75,"y":0.45},{"p":"j","s":"DJF","x":2,"y":0.6},{"p":"j","s":"DJF","x":2.25,"y":0.7},{"p":"j","s":"DJF","x":2.5,"y":0.58},{"p":"j","s":"DJF","x":2.75,"y":0.4},{"p":"j","s":"DJF","x":3,"y":0.27},{"p":"j","s":"DJF","x":3.25,"y":0.22},{"p":"j","s":"DJF","x":3.5,"y":0.26},{"p":"j","s":"DJF","x":3.75,"y":0.27},{"p":"j","s":"DJF","x":4,"y":0.17},{"p":"j","s":"DJF","x":4.25,"y":0.1},{"p":"j","s":"DJF","x":4.5,"y":0.06},{"p":"j","s":"DJF","x":4.75,"y":0.03},{"p":"j","s":"DJF","x":5,"y":0.01},{"p":"j","s":"DJF","x":5.25,"y":0},{"p":"j","s":"DJF","x":10,"y":0},
{"p":"j","s":"Annual","x":0,"y":0},{"p":"j","s":"Annual","x":1.25,"y":0},{"p":"j","s":"Annual","x":1.5,"y":0.15},{"p":"j","s":"Annual","x":1.75,"y":0.4},{"p":"j","s":"Annual","x":2,"y":0.55},{"p":"j","s":"Annual","x":2.25,"y":0.52},{"p":"j","s":"Annual","x":2.5,"y":0.42},{"p":"j","s":"Annual","x":2.75,"y":0.36},{"p":"j","s":"Annual","x":3,"y":0.36},{"p":"j","s":"Annual","x":3.25,"y":0.37},{"p":"j","s":"Annual","x":3.5,"y":0.38},{"p":"j","s":"Annual","x":3.75,"y":0.35},{"p":"j","s":"Annual","x":4,"y":0.24},{"p":"j","s":"Annual","x":4.25,"y":0.13},{"p":"j","s":"Annual","x":4.5,"y":0.06},{"p":"j","s":"Annual","x":4.75,"y":0.02},{"p":"j","s":"Annual","x":5,"y":0},{"p":"j","s":"Annual","x":10,"y":0},

{"p":"k","s":"MAM","x":0,"y":0},{"p":"k","s":"MAM","x":2,"y":0},{"p":"k","s":"MAM","x":2.25,"y":0.01},{"p":"k","s":"MAM","x":2.5,"y":0.04},{"p":"k","s":"MAM","x":2.75,"y":0.09},{"p":"k","s":"MAM","x":3,"y":0.25},{"p":"k","s":"MAM","x":3.25,"y":0.55},{"p":"k","s":"MAM","x":3.5,"y":0.82},{"p":"k","s":"MAM","x":3.75,"y":0.91},{"p":"k","s":"MAM","x":4,"y":0.68},{"p":"k","s":"MAM","x":4.25,"y":0.4},{"p":"k","s":"MAM","x":4.5,"y":0.17},{"p":"k","s":"MAM","x":4.75,"y":0.06},{"p":"k","s":"MAM","x":5,"y":0.01},{"p":"k","s":"MAM","x":5.25,"y":0},{"p":"k","s":"MAM","x":10,"y":0},
{"p":"k","s":"JJA","x":0,"y":0},{"p":"k","s":"JJA","x":0.5,"y":0},{"p":"k","s":"JJA","x":0.75,"y":0.03},{"p":"k","s":"JJA","x":1,"y":0.3},{"p":"k","s":"JJA","x":1.25,"y":0.85},{"p":"k","s":"JJA","x":1.5,"y":0.93},{"p":"k","s":"JJA","x":1.75,"y":0.88},{"p":"k","s":"JJA","x":2,"y":0.82},{"p":"k","s":"JJA","x":2.25,"y":0.7},{"p":"k","s":"JJA","x":2.5,"y":0.3},{"p":"k","s":"JJA","x":2.75,"y":0.05},{"p":"k","s":"JJA","x":3,"y":0},{"p":"k","s":"JJA","x":10,"y":0},
{"p":"k","s":"SON","x":0,"y":0},{"p":"k","s":"SON","x":2.25,"y":0},{"p":"k","s":"SON","x":2.5,"y":0.02},{"p":"k","s":"SON","x":2.75,"y":0.12},{"p":"k","s":"SON","x":3,"y":0.3},{"p":"k","s":"SON","x":3.25,"y":0.28},{"p":"k","s":"SON","x":3.5,"y":0.24},{"p":"k","s":"SON","x":3.75,"y":0.3},{"p":"k","s":"SON","x":4,"y":0.42},{"p":"k","s":"SON","x":4.25,"y":0.55},{"p":"k","s":"SON","x":4.5,"y":0.59},{"p":"k","s":"SON","x":4.75,"y":0.46},{"p":"k","s":"SON","x":5,"y":0.29},{"p":"k","s":"SON","x":5.25,"y":0.15},{"p":"k","s":"SON","x":5.5,"y":0.06},{"p":"k","s":"SON","x":5.75,"y":0.01},{"p":"k","s":"SON","x":6,"y":0},{"p":"k","s":"SON","x":10,"y":0},
{"p":"k","s":"DJF","x":0,"y":0},{"p":"k","s":"DJF","x":2.25,"y":0},{"p":"k","s":"DJF","x":2.5,"y":0.02},{"p":"k","s":"DJF","x":2.75,"y":0.3},{"p":"k","s":"DJF","x":3,"y":0.66},{"p":"k","s":"DJF","x":3.25,"y":0.35},{"p":"k","s":"DJF","x":3.5,"y":0.13},{"p":"k","s":"DJF","x":3.75,"y":0.35},{"p":"k","s":"DJF","x":4,"y":0.55},{"p":"k","s":"DJF","x":4.25,"y":0.72},{"p":"k","s":"DJF","x":4.5,"y":0.5},{"p":"k","s":"DJF","x":4.75,"y":0.25},{"p":"k","s":"DJF","x":5,"y":0.12},{"p":"k","s":"DJF","x":5.25,"y":0.04},{"p":"k","s":"DJF","x":5.5,"y":0.01},{"p":"k","s":"DJF","x":5.75,"y":0},{"p":"k","s":"DJF","x":10,"y":0},
{"p":"k","s":"Annual","x":0,"y":0},{"p":"k","s":"Annual","x":0.75,"y":0},{"p":"k","s":"Annual","x":1,"y":0.05},{"p":"k","s":"Annual","x":1.25,"y":0.18},{"p":"k","s":"Annual","x":1.5,"y":0.22},{"p":"k","s":"Annual","x":1.75,"y":0.22},{"p":"k","s":"Annual","x":2,"y":0.19},{"p":"k","s":"Annual","x":2.25,"y":0.15},{"p":"k","s":"Annual","x":2.5,"y":0.1},{"p":"k","s":"Annual","x":2.75,"y":0.18},{"p":"k","s":"Annual","x":3,"y":0.36},{"p":"k","s":"Annual","x":3.25,"y":0.32},{"p":"k","s":"Annual","x":3.5,"y":0.3},{"p":"k","s":"Annual","x":3.75,"y":0.33},{"p":"k","s":"Annual","x":4,"y":0.38},{"p":"k","s":"Annual","x":4.25,"y":0.37},{"p":"k","s":"Annual","x":4.5,"y":0.27},{"p":"k","s":"Annual","x":4.75,"y":0.15},{"p":"k","s":"Annual","x":5,"y":0.07},{"p":"k","s":"Annual","x":5.25,"y":0.02},{"p":"k","s":"Annual","x":5.5,"y":0},{"p":"k","s":"Annual","x":10,"y":0}
]
},
"concat": [
{"width": 262, "height": 143, "title": {"text": "(a) GPCP"}, "data": {"name": "pdf"}, "transform": [{"filter": "datum.p == 'a'"}],
 "mark": {"type": "line", "strokeWidth": 2.5, "interpolate": "monotone"},
 "encoding": {"x": {"field": "x", "type": "quantitative", "scale": {"domain": [0, 10]}, "axis": {"values": [0, 5, 10], "format": "~f", "title": null}},
  "y": {"field": "y", "type": "quantitative", "scale": {"domain": [0, 1]}, "axis": {"values": [0, 0.5, 1], "format": "~f", "title": null}},
  "color": {"field": "s", "type": "nominal", "scale": {"domain": ["MAM", "JJA", "SON", "DJF", "Annual"], "range": ["#22e23a", "#e6141e", "#1c1cd2", "#000000", "#909090"]}, "legend": null}}},
{"width": 262, "height": 143, "title": {"text": "(b) CMAP"}, "data": {"name": "pdf"}, "transform": [{"filter": "datum.p == 'b'"}],
 "mark": {"type": "line", "strokeWidth": 2.5, "interpolate": "monotone"},
 "encoding": {"x": {"field": "x", "type": "quantitative", "scale": {"domain": [0, 10]}, "axis": {"values": [0, 5, 10], "format": "~f", "title": null}},
  "y": {"field": "y", "type": "quantitative", "scale": {"domain": [0, 1]}, "axis": {"values": [0, 0.5, 1], "format": "~f", "title": null}},
  "color": {"field": "s", "type": "nominal", "scale": {"domain": ["MAM", "JJA", "SON", "DJF", "Annual"], "range": ["#22e23a", "#e6141e", "#1c1cd2", "#000000", "#909090"]}, "legend": null}}},
{"width": 262, "height": 143, "title": {"text": "(c) Ens. GPCP & CMAP"}, "data": {"name": "pdf"}, "transform": [{"filter": "datum.p == 'c'"}],
 "mark": {"type": "line", "strokeWidth": 2.5, "interpolate": "monotone"},
 "encoding": {"x": {"field": "x", "type": "quantitative", "scale": {"domain": [0, 10]}, "axis": {"values": [0, 5, 10], "format": "~f", "title": null}},
  "y": {"field": "y", "type": "quantitative", "scale": {"domain": [0, 1]}, "axis": {"values": [0, 0.5, 1], "format": "~f", "title": null}},
  "color": {"field": "s", "type": "nominal", "scale": {"domain": ["MAM", "JJA", "SON", "DJF", "Annual"], "range": ["#22e23a", "#e6141e", "#1c1cd2", "#000000", "#909090"]}, "legend": null}}},
{"width": 262, "height": 143, "title": {"text": "(d) CRU", "offset": -6}, "data": {"name": "pdf"}, "transform": [{"filter": "datum.p == 'd'"}],
 "mark": {"type": "line", "strokeWidth": 2.5, "interpolate": "monotone"},
 "encoding": {"x": {"field": "x", "type": "quantitative", "scale": {"domain": [0, 10]}, "axis": {"values": [0, 5, 10], "format": "~f", "title": null}},
  "y": {"field": "y", "type": "quantitative", "scale": {"domain": [0, 1.5]}, "axis": {"values": [0, 0.5, 1, 1.5], "format": "~f", "title": null}},
  "color": {"field": "s", "type": "nominal", "scale": {"domain": ["MAM", "JJA", "SON", "DJF", "Annual"], "range": ["#22e23a", "#e6141e", "#1c1cd2", "#000000", "#909090"]}, "legend": null}}},
{"width": 262, "height": 143, "title": {"text": "(e) GPCC", "offset": -6}, "data": {"name": "pdf"}, "transform": [{"filter": "datum.p == 'e'"}],
 "mark": {"type": "line", "strokeWidth": 2.5, "interpolate": "monotone"},
 "encoding": {"x": {"field": "x", "type": "quantitative", "scale": {"domain": [0, 10]}, "axis": {"values": [0, 5, 10], "format": "~f", "title": null}},
  "y": {"field": "y", "type": "quantitative", "scale": {"domain": [0, 1.5]}, "axis": {"values": [0, 0.5, 1, 1.5], "format": "~f", "title": null}},
  "color": {"field": "s", "type": "nominal", "scale": {"domain": ["MAM", "JJA", "SON", "DJF", "Annual"], "range": ["#22e23a", "#e6141e", "#1c1cd2", "#000000", "#909090"]}, "legend": null}}},
{"width": 262, "height": 143, "title": {"text": "(f) Ens. CRU & GPCC", "offset": -6}, "data": {"name": "pdf"}, "transform": [{"filter": "datum.p == 'f'"}],
 "mark": {"type": "line", "strokeWidth": 2.5, "interpolate": "monotone"},
 "encoding": {"x": {"field": "x", "type": "quantitative", "scale": {"domain": [0, 10]}, "axis": {"values": [0, 5, 10], "format": "~f", "title": null}},
  "y": {"field": "y", "type": "quantitative", "scale": {"domain": [0, 1.5]}, "axis": {"values": [0, 0.5, 1, 1.5], "format": "~f", "title": null}},
  "color": {"field": "s", "type": "nominal", "scale": {"domain": ["MAM", "JJA", "SON", "DJF", "Annual"], "range": ["#22e23a", "#e6141e", "#1c1cd2", "#000000", "#909090"]}, "legend": null}}},
{"width": 262, "height": 143, "title": {"text": "(g) ERA-I", "offset": -6}, "data": {"name": "pdf"}, "transform": [{"filter": "datum.p == 'g'"}],
 "mark": {"type": "line", "strokeWidth": 2.5, "interpolate": "monotone"},
 "encoding": {"x": {"field": "x", "type": "quantitative", "scale": {"domain": [0, 10]}, "axis": {"values": [0, 5, 10], "format": "~f", "title": null}},
  "y": {"field": "y", "type": "quantitative", "scale": {"domain": [0, 1]}, "axis": {"values": [0, 0.5, 1], "format": "~f", "title": null}},
  "color": {"field": "s", "type": "nominal", "scale": {"domain": ["MAM", "JJA", "SON", "DJF", "Annual"], "range": ["#22e23a", "#e6141e", "#1c1cd2", "#000000", "#909090"]}, "legend": null}}},
{"width": 262, "height": 143, "title": {"text": "(h) NCEP", "offset": -6}, "data": {"name": "pdf"}, "transform": [{"filter": "datum.p == 'h'"}],
 "mark": {"type": "line", "strokeWidth": 2.5, "interpolate": "monotone"},
 "encoding": {"x": {"field": "x", "type": "quantitative", "scale": {"domain": [0, 10]}, "axis": {"values": [0, 5, 10], "format": "~f", "title": null}},
  "y": {"field": "y", "type": "quantitative", "scale": {"domain": [0, 1.5]}, "axis": {"values": [0, 0.5, 1, 1.5], "format": "~f", "title": null}},
  "color": {"field": "s", "type": "nominal", "scale": {"domain": ["MAM", "JJA", "SON", "DJF", "Annual"], "range": ["#22e23a", "#e6141e", "#1c1cd2", "#000000", "#909090"]}, "legend": null}}},
{"width": 262, "height": 143, "title": {"text": "(i) Ens. ERA-I & NCEP", "offset": -6}, "data": {"name": "pdf"}, "transform": [{"filter": "datum.p == 'i'"}],
 "mark": {"type": "line", "strokeWidth": 2.5, "interpolate": "monotone"},
 "encoding": {"x": {"field": "x", "type": "quantitative", "scale": {"domain": [0, 10]}, "axis": {"values": [0, 5, 10], "format": "~f", "title": null}},
  "y": {"field": "y", "type": "quantitative", "scale": {"domain": [0, 1]}, "axis": {"values": [0, 0.5, 1], "format": "~f", "title": null}},
  "color": {"field": "s", "type": "nominal", "scale": {"domain": ["MAM", "JJA", "SON", "DJF", "Annual"], "range": ["#22e23a", "#e6141e", "#1c1cd2", "#000000", "#909090"]}, "legend": null}}},
{"width": 262, "height": 143, "title": {"text": "(j) TAMSAT", "offset": -6}, "data": {"name": "pdf"}, "transform": [{"filter": "datum.p == 'j'"}],
 "mark": {"type": "line", "strokeWidth": 2.5, "interpolate": "monotone"},
 "encoding": {"x": {"field": "x", "type": "quantitative", "scale": {"domain": [0, 10]}, "axis": {"values": [0, 5, 10], "format": "~f", "title": null}},
  "y": {"field": "y", "type": "quantitative", "scale": {"domain": [0, 1]}, "axis": {"values": [0, 0.5, 1], "format": "~f", "title": null}},
  "color": {"field": "s", "type": "nominal", "scale": {"domain": ["MAM", "JJA", "SON", "DJF", "Annual"], "range": ["#22e23a", "#e6141e", "#1c1cd2", "#000000", "#909090"]}, "legend": null}}},
{"width": 262, "height": 143, "title": {"text": "(k) ECHAM", "offset": -6}, "data": {"name": "pdf"}, "transform": [{"filter": "datum.p == 'k'"}],
 "mark": {"type": "line", "strokeWidth": 2.5, "interpolate": "monotone"},
 "encoding": {"x": {"field": "x", "type": "quantitative", "scale": {"domain": [0, 10]}, "axis": {"values": [0, 5, 10], "format": "~f", "title": "Rainfall [mm/d]", "titleFontSize": 45, "titleFontWeight": "normal", "titlePadding": 16, "titleColor": "#222"}},
  "y": {"field": "y", "type": "quantitative", "scale": {"domain": [0, 1]}, "axis": {"values": [0, 0.5, 1], "format": "~f", "title": null}},
  "color": {"field": "s", "type": "nominal", "scale": {"domain": ["MAM", "JJA", "SON", "DJF", "Annual"], "range": ["#22e23a", "#e6141e", "#1c1cd2", "#000000", "#909090"]}, "legend": null}}},
{"width": 262, "height": 154, "data": {"name": "leg"}, "view": {"stroke": null},
 "mark": {"type": "text", "align": "left", "baseline": "middle", "fontSize": 25, "fontWeight": "bold", "font": "Lato"},
 "encoding": {"x": {"datum": 0.27, "type": "quantitative", "scale": {"domain": [0, 10]}, "axis": null},
  "y": {"field": "s", "type": "ordinal", "scale": {"type": "point", "domain": ["MAM", "JJA", "SON", "DJF", "Annual"], "padding": 0.17}, "axis": null},
  "text": {"field": "s"},
  "color": {"field": "s", "type": "nominal", "scale": {"domain": ["MAM", "JJA", "SON", "DJF", "Annual"], "range": ["#22e23a", "#e6141e", "#1c1cd2", "#000000", "#909090"]}, "legend": null}}}
],
"config": {
 "font": "Lato",
 "view": {"stroke": "#8a8a8a", "strokeWidth": 1.2},
 "axis": {"grid": false, "domain": false, "ticks": false, "labelFontSize": 18, "labelColor": "#222", "labelPadding": 5, "labelFont": "Lato", "titleFont": "Lato"},
 "title": {"fontSize": 21, "fontWeight": "normal", "anchor": "start", "frame": "group", "color": "#222", "offset": 4, "dx": 3, "font": "Lato"}
}
}
